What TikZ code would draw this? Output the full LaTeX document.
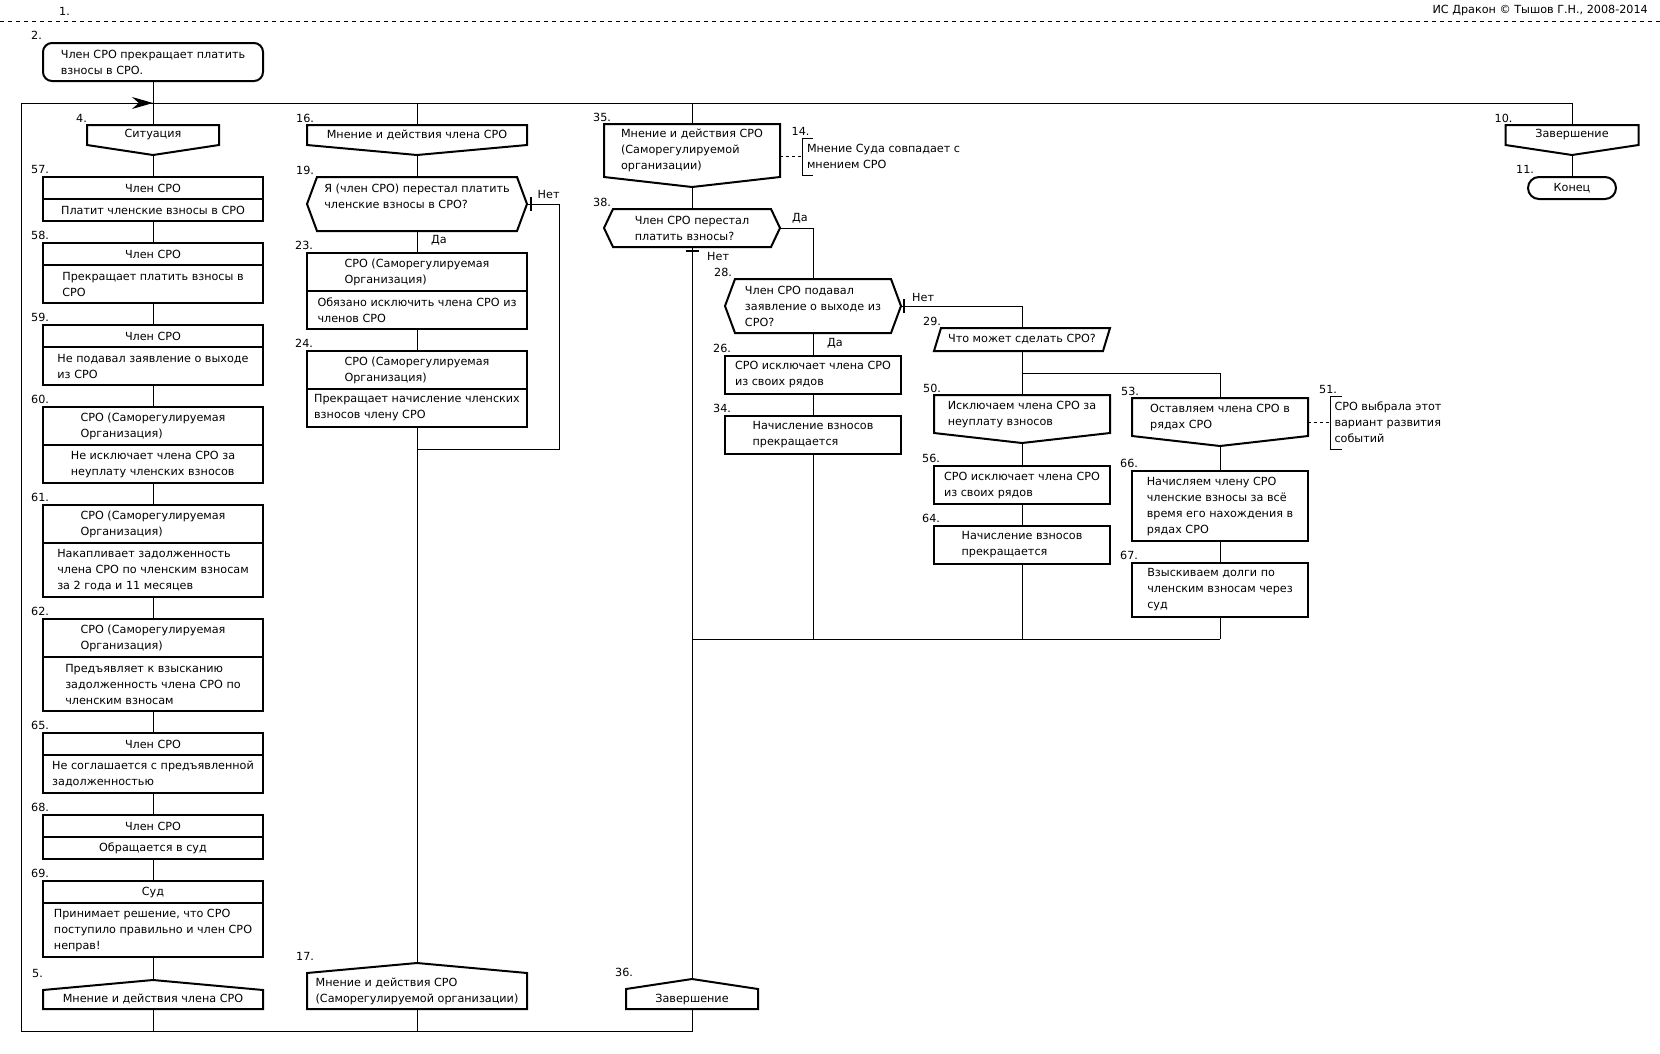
\documentclass[tikz,border=0pt]{standalone}
\usepackage{fontspec}
\setmainfont{DejaVu Sans}
\usetikzlibrary{arrows.meta}

\newcommand\drfont{\fontsize{11.2}{16}\selectfont}
% outlines of the DRAKON icons, drawn round a bare node
\newcommand\headshape[1]{%
  \draw[outl] (#1.north west) -- (#1.north east) -- (#1.south east)
    -- ([yshift=-10pt]#1.south) -- (#1.south west) -- cycle;
  \coordinate (#1tip) at ([yshift=-10pt]#1.south);}
\newcommand\footshape[1]{%
  \draw[outl] (#1.south west) -- (#1.north west) -- ([yshift=10pt]#1.north)
    -- (#1.north east) -- (#1.south east) -- cycle;
  \coordinate (#1tip) at ([yshift=10pt]#1.north);}
\newcommand\hexshape[2][10pt]{%
  \draw[outl] (#2.west) -- ([xshift=#1]#2.north west) -- ([xshift=-#1]#2.north east)
    -- (#2.east) -- ([xshift=-#1]#2.south east) -- ([xshift=#1]#2.south west) -- cycle;}
\newcommand\parashape[1]{%
  \draw[outl] (#1.south west) -- ([xshift=7pt]#1.north west) -- (#1.north east)
    -- ([xshift=-7pt]#1.south east) -- cycle;}
\newcommand\notebracket[2]{%
  \draw[link] ([xshift=#2]#1.north west) -- (#1.north west) -- (#1.south west)
    -- ([xshift=#2]#1.south west);}
\newcommand\drnum[3][7pt]{\node[num] (n#2) at ([xshift=-11pt,yshift=#1]#2.north west) {#3};}

\begin{document}
\begin{tikzpicture}[x=1pt,y=-1pt]

\tikzset{box/.style = {draw, line width=2pt, inner sep=0pt, align=left, font=\drfont}}
\tikzset{bare/.style = {inner sep=0pt, outer sep=0pt, align=left, font=\drfont}}
\tikzset{wide/.style = {box, minimum width=220pt}}
\tikzset{narrow/.style = {box, minimum width=176pt}}
\tikzset{outl/.style = {line width=2pt}}
\tikzset{link/.style = {line width=1pt}}
\tikzset{tick/.style = {line width=1.5pt}}
\tikzset{note/.style = {line width=1pt, dash pattern=on 3pt off 3pt}}
\tikzset{num/.style = {inner sep=0pt, anchor=west, font=\drfont}}
\tikzset{remark/.style = {bare, anchor=west, inner xsep=4.5pt}}

\useasboundingbox (0,0) rectangle (1660,1053);

% title
\node[num] (n1) at (59,11) {1.};
\node[num, anchor=east] (copy) at (1648,11) {ИС Дракон © Тышов Г.Н., 2008-2014};
\draw[link, dash pattern=on 4pt off 4pt] (0,21) -- (1660,21);

% column 1
\node[wide, minimum height=38pt, rounded corners=9pt] (2) at (153,62) {Член СРО прекращает платить\\взносы в СРО.};
\node[bare, minimum width=132pt, minimum height=20pt] (4) at (153,135) {Ситуация};
\node[wide, minimum height=22pt] (57a) at (153,188) {Член СРО};
\node[wide, minimum height=22pt] (57b) at (153,210) {Платит членские взносы в СРО};
\node[wide, minimum height=22pt] (58a) at (153,254) {Член СРО};
\node[wide, minimum height=38pt] (58b) at (153,284) {Прекращает платить взносы в\\СРО};
\node[wide, minimum height=22pt] (59a) at (153,336) {Член СРО};
\node[wide, minimum height=38pt] (59b) at (153,366) {Не подавал заявление о выходе\\из СРО};
\node[wide, minimum height=38pt] (60a) at (153,426) {СРО (Саморегулируемая\\Организация)};
\node[wide, minimum height=38pt] (60b) at (153,464) {Не исключает члена СРО за\\неуплату членских взносов};
\node[wide, minimum height=38pt] (61a) at (153,524) {СРО (Саморегулируемая\\Организация)};
\node[wide, minimum height=54pt] (61b) at (153,570) {Накапливает задолженность\\члена СРО по членским взносам\\за 2 года и 11 месяцев};
\node[wide, minimum height=38pt] (62a) at (153,638) {СРО (Саморегулируемая\\Организация)};
\node[wide, minimum height=54pt] (62b) at (153,684) {Предъявляет к взысканию\\задолженность члена СРО по\\членским взносам};
\node[wide, minimum height=22pt] (65a) at (153,744) {Член СРО};
\node[wide, minimum height=38pt] (65b) at (153,774) {Не соглашается с предъявленной\\задолженностью};
\node[wide, minimum height=22pt] (68a) at (153,826) {Член СРО};
\node[wide, minimum height=22pt] (68b) at (153,848) {Обращается в суд};
\node[wide, minimum height=22pt] (69a) at (153,892) {Суд};
\node[wide, minimum height=54pt] (69b) at (153,930) {Принимает решение, что СРО\\поступило правильно и член СРО\\неправ!};
\node[bare, minimum width=220pt, minimum height=19pt] (5) at (153,999.5) {Мнение и действия члена СРО};

% column 2
\node[bare, minimum width=220pt, minimum height=20pt] (16) at (417,135) {Мнение и действия члена СРО};
\node[bare, minimum width=220pt, minimum height=54pt] (19) at (417,204) {Я (член СРО) перестал платить\\членские взносы в СРО?\\\mbox{}};
\node[wide, minimum height=38pt] (23a) at (417,272) {СРО (Саморегулируемая\\Организация)};
\node[wide, minimum height=38pt] (23b) at (417,310) {Обязано исключить члена СРО из\\членов СРО};
\node[wide, minimum height=38pt] (24a) at (417,370) {СРО (Саморегулируемая\\Организация)};
\node[wide, minimum height=38pt] (24b) at (417,408) {Прекращает начисление членских\\взносов члену СРО};
\node[bare, minimum width=220pt, minimum height=36pt] (17) at (417,991) {Мнение и действия СРО\\(Саморегулируемой организации)};

% column 3 and its branches
\node[bare, minimum width=176pt, minimum height=53pt] (35) at (692,150.5) {Мнение и действия СРО\\(Саморегулируемой\\организации)};
\node[remark, minimum height=37pt] (14) at (802.5,156.5) {Мнение Суда совпадает с\\мнением СРО};
\node[bare, minimum width=176pt, minimum height=38pt] (38) at (692,228) {Член СРО перестал\\платить взносы?};
\node[bare, minimum width=132pt, minimum height=20pt] (36) at (692,999) {Завершение};
\node[bare, minimum width=176pt, minimum height=54pt] (28) at (813,306) {Член СРО подавал\\заявление о выходе из\\СРО?};
\node[narrow, minimum height=38pt] (26) at (813,375) {СРО исключает члена СРО\\из своих рядов};
\node[narrow, minimum height=38pt] (34) at (813,435) {Начисление взносов\\прекращается};
\node[bare, minimum width=176pt, minimum height=23pt] (29) at (1022,339.5) {Что может сделать СРО?};
\node[bare, minimum width=176pt, minimum height=38pt] (50) at (1022,414) {Исключаем члена СРО за\\неуплату взносов};
\node[narrow, minimum height=38pt] (56) at (1022,485) {СРО исключает члена СРО\\из своих рядов};
\node[narrow, minimum height=38pt] (64) at (1022,545) {Начисление взносов\\прекращается};
\node[bare, minimum width=176pt, minimum height=38pt] (53) at (1220,417) {Оставляем члена СРО в\\рядах СРО};
\node[remark, minimum height=53pt] (51) at (1330,422.5) {СРО выбрала этот\\вариант развития\\событий};
\node[narrow, minimum height=70pt] (66) at (1220,506) {Начисляем члену СРО\\членские взносы за всё\\время его нахождения в\\рядах СРО};
\node[narrow, minimum height=54pt] (67) at (1220,590) {Взыскиваем долги по\\членским взносам через\\суд};

% column 4
\node[bare, minimum width=133pt, minimum height=20pt] (10) at (1572,135) {Завершение};
\node[box, minimum width=88pt, minimum height=22pt, rounded corners=11pt] (11) at (1572,188) {Конец};

% icon outlines
\headshape{4} \headshape{16} \headshape{35} \headshape{10} \headshape{50} \headshape{53}
\footshape{5} \footshape{17} \footshape{36}
\hexshape{19} \hexshape[9pt]{38} \hexshape{28}
\parashape{29}
\notebracket{14}{10.5pt} \notebracket{51}{12pt}

% numbers
\drnum{2}{2.} \drnum{4}{4.} \drnum{57a}{57.} \drnum{58a}{58.} \drnum{59a}{59.}
\drnum{60a}{60.} \drnum{61a}{61.} \drnum{62a}{62.} \drnum{65a}{65.} \drnum{68a}{68.}
\drnum{69a}{69.} \drnum[17pt]{5}{5.}
\drnum{16}{16.} \drnum{19}{19.} \drnum{23a}{23.} \drnum{24a}{24.} \drnum[17pt]{17}{17.}
\drnum{35}{35.} \drnum{14}{14.} \drnum{38}{38.} \drnum[17pt]{36}{36.}
\drnum{28}{28.} \drnum{26}{26.} \drnum{34}{34.} \drnum{29}{29.}
\drnum{50}{50.} \drnum{56}{56.} \drnum{64}{64.}
\drnum{53}{53.} \drnum{51}{51.} \drnum{66}{66.} \drnum{67}{67.}
\drnum{10}{10.} \drnum{11}{11.}

% answers
\node[num] (no19) at (537.5,194) {Нет};
\node[num] (yes19) at (431,240) {Да};
\node[num] (yes38) at (792,218) {Да};
\node[num] (no38) at (707,256) {Нет};
\node[num] (no28) at (912,297) {Нет};
\node[num] (yes28) at (827,343) {Да};

% loop corners and junctions
\coordinate (tl) at (21,103);
\coordinate (bl) at (21,1031);
\coordinate (top1) at (153,103);
\coordinate (top2) at (417,103);
\coordinate (top3) at (692,103);
\coordinate (top4) at (1572,103);
\coordinate (b1) at (153,1031);
\coordinate (b2) at (417,1031);
\coordinate (b3) at (692,1031);
\coordinate (arr) at (132,103);
\coordinate (r19) at (559,449);
\coordinate (s29) at (1022,373);
\coordinate (m36) at (692,639);

%edges
\draw[link] (36) -- (b3) -- (bl) -- (tl) -- (top4) -- (10);
\draw[link] (5) -- (b1);
\draw[link] (17) -- (b2);
\draw[link, -{Stealth[length=21pt,width=12pt]}] (arr) -- (top1);
\draw[link] (2) -- (4);
\draw[link] (4tip) -- (57a);
\draw[link] (57b) -- (58a);
\draw[link] (58b) -- (59a);
\draw[link] (59b) -- (60a);
\draw[link] (60b) -- (61a);
\draw[link] (61b) -- (62a);
\draw[link] (62b) -- (65a);
\draw[link] (65b) -- (68a);
\draw[link] (68b) -- (69a);
\draw[link] (69b) -- (5tip);
\draw[link] (top2) -- (16);
\draw[link] (16tip) -- (19);
\draw[link] (19) -- (23a);
\draw[link] (23b) -- (24a);
\draw[link] (24b) -- (17tip);
\draw[link] (19.east) -- (19.east -| r19) -- (r19) -- (r19 -| 24b);
\draw[link] (top3) -- (35);
\draw[link] (35tip) -- (38);
\draw[link] (38) -- (36tip);
\draw[link] (38.east) -- (38.east -| 28) -- (28);
\draw[link] (28) -- (26);
\draw[link] (26) -- (34);
\draw[link] (34) -- (34 |- m36);
\draw[link] (28.east) -- (28.east -| 29) -- (29);
\draw[link] (29) -- (50);
\draw[link] (s29) -| (53);
\draw[link] (50tip) -- (56);
\draw[link] (56) -- (64);
\draw[link] (64) -- (64 |- m36);
\draw[link] (53tip) -- (66);
\draw[link] (66) -- (67);
\draw[link] (67) -- (67 |- m36);
\draw[link] (m36) -- (67 |- m36);
\draw[link] (10tip) -- (11);

% ticks on the "no" exits
\draw[tick] ([xshift=4pt,yshift=7pt]19.east) -- ([xshift=4pt,yshift=-7pt]19.east);
\draw[tick] ([xshift=-6.5pt,yshift=-4pt]38.south) -- ([xshift=6.5pt,yshift=-4pt]38.south);
\draw[tick] ([xshift=3pt,yshift=7pt]28.east) -- ([xshift=3pt,yshift=-7pt]28.east);

% comments
\draw[note] (35.east |- 14.west) -- (14.west);
\draw[note] (53.east |- 51.west) -- (51.west);
\end{tikzpicture}
\end{document}
